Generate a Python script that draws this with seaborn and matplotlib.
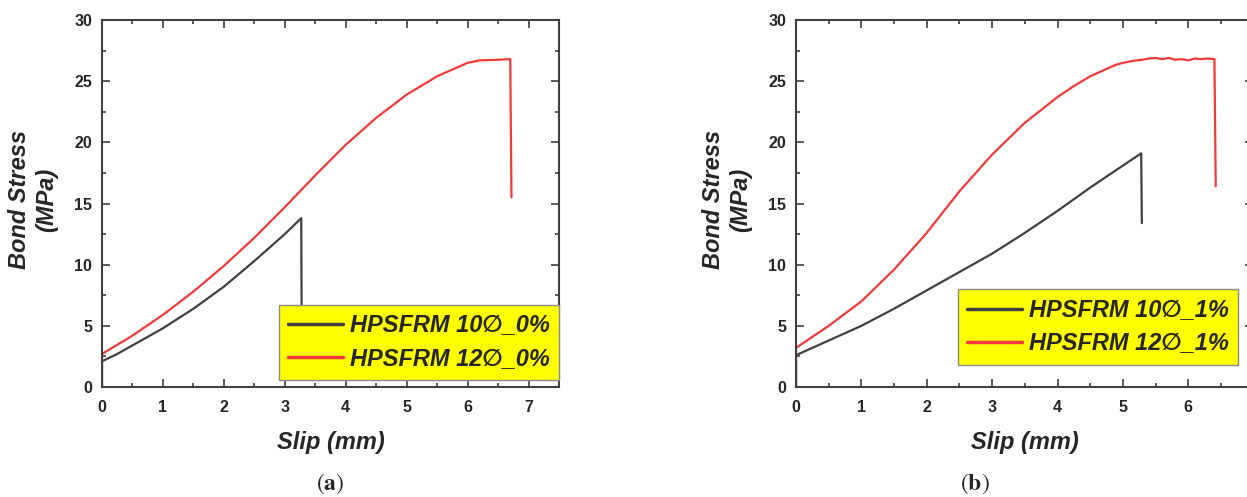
import matplotlib
matplotlib.use("Agg")
import matplotlib.pyplot as plt
import seaborn as sns
import pandas as pd
from matplotlib.ticker import MultipleLocator

# panel (a) : 0 % fibre
slip_a10 = [0.0, 0.0, 0.25, 0.5, 0.75, 1.0, 1.5, 2.0, 2.5, 3.0, 3.27, 3.28]
bond_a10 = [0.0, 2.1, 2.7, 3.4, 4.1, 4.8, 6.4, 8.2, 10.3, 12.5, 13.8, 1.0]
slip_a12 = [0.0, 0.0, 0.5, 1.0, 1.5, 2.0, 2.5, 3.0, 3.5, 4.0, 4.5, 5.0, 5.5, 6.0, 6.2, 6.5, 6.7, 6.72]
bond_a12 = [0.0, 2.7, 4.2, 5.9, 7.8, 9.9, 12.2, 14.7, 17.3, 19.8, 22.0, 23.9, 25.4, 26.5, 26.7, 26.75, 26.8, 15.5]

# panel (b) : 1 % fibre
slip_b10 = [0.0, 0.0, 0.5, 1.0, 1.5, 2.0, 2.5, 3.0, 3.5, 4.0, 4.5, 5.0, 5.28, 5.29]
bond_b10 = [0.0, 2.6, 3.8, 5.0, 6.4, 7.9, 9.4, 10.9, 12.6, 14.4, 16.3, 18.1, 19.1, 13.4]
slip_b12 = [0.0, 0.0, 0.25, 0.5, 0.75, 1.0, 1.5, 2.0, 2.5, 3.0, 3.5, 4.0, 4.25, 4.5, 4.75,
            4.9, 5.0, 5.1, 5.2, 5.3, 5.4, 5.5, 5.6, 5.7, 5.8, 5.9, 6.0, 6.1, 6.2, 6.3, 6.4, 6.42]
bond_b12 = [0.0, 3.2, 4.1, 5.0, 6.0, 7.0, 9.6, 12.6, 16.0, 19.0, 21.6, 23.7, 24.6, 25.4, 26.0,
            26.35, 26.5, 26.6, 26.7, 26.75, 26.85, 26.9, 26.8, 26.9, 26.75, 26.8, 26.7, 26.85, 26.8, 26.85, 26.8, 16.4]

labels_a = ["HPSFRM 10\u2205_0%", "HPSFRM 12\u2205_0%"]
labels_b = ["HPSFRM 10\u2205_1%", "HPSFRM 12\u2205_1%"]

sns.set_theme(style="ticks")
plt.rcParams["font.family"] = ["Liberation Sans", "DejaVu Sans"]
plt.rcParams["mathtext.fontset"] = "stix"

df_a = pd.concat([pd.DataFrame({"slip": slip_a10, "bond": bond_a10, "series": labels_a[0]}),
                  pd.DataFrame({"slip": slip_a12, "bond": bond_a12, "series": labels_a[1]})])
df_b = pd.concat([pd.DataFrame({"slip": slip_b10, "bond": bond_b10, "series": labels_b[0]}),
                  pd.DataFrame({"slip": slip_b12, "bond": bond_b12, "series": labels_b[1]})])

f = plt.figure(figsize=(12.47, 4.97), dpi=100)
ax_a = f.add_axes([102 / 1247, 1 - 387 / 497, 457 / 1247, 367 / 497])
ax_b = f.add_axes([796 / 1247, 1 - 387 / 497, 457 / 1247, 367 / 497])

grey, red = "#404040", "#f23a3a"

for ax, df, labels, xmax, anchor in [(ax_a, df_a, labels_a, 7.5, (1.0, 0.019)),
                                     (ax_b, df_b, labels_b, 6.99, (0.967, 0.06))]:
    sns.lineplot(data=df, x="slip", y="bond", hue="series", palette=[grey, red],
                 estimator=None, sort=False, linewidth=1.6, ax=ax)
    ax.set_xlim(0, xmax)
    ax.set_ylim(0, 30)
    ax.xaxis.set_major_locator(MultipleLocator(1))
    ax.xaxis.set_minor_locator(MultipleLocator(0.5))
    ax.yaxis.set_major_locator(MultipleLocator(5))
    ax.yaxis.set_minor_locator(MultipleLocator(2.5))
    ax.tick_params(which="both", direction="in", top=True, right=True, color=grey, width=1.2)
    ax.tick_params(which="major", length=6, labelsize=11.5)
    ax.tick_params(axis="x", which="major", pad=9)
    ax.tick_params(axis="y", which="major", pad=7)
    ax.tick_params(which="minor", length=3)
    for lab in ax.get_xticklabels() + ax.get_yticklabels():
        lab.set_fontweight("bold")
    for sp in ax.spines.values():
        sp.set_color(grey)
        sp.set_linewidth(1.5)
    ax.set_xlabel("Slip (mm)", fontsize=17, fontweight="bold", style="italic", labelpad=12)
    ax.set_ylabel("Bond Stress\n(MPa)", fontsize=17, fontweight="bold", style="italic")
    ax.yaxis.set_label_coords(-0.097, 0.51)
    leg = ax.legend(loc="lower right", bbox_to_anchor=anchor, fancybox=False, framealpha=1,
                    facecolor="#ffff00", edgecolor="#8a8a8a", handlelength=2.3,
                    handletextpad=0.3, borderpad=0.4, labelspacing=0.45, borderaxespad=0,
                    prop={"family": ["Liberation Sans", "DejaVu Sans"], "weight": "bold",
                          "style": "italic", "size": 17})
    for ln in leg.get_lines():
        ln.set_linewidth(2.5)

f.text(330 / 1247, 1 - 484 / 497, r"$(\mathbf{a})$", ha="center", va="center", fontsize=17)
f.text(975 / 1247, 1 - 484 / 497, r"$(\mathbf{b})$", ha="center", va="center", fontsize=17)

f.savefig("out.png", dpi=100)
